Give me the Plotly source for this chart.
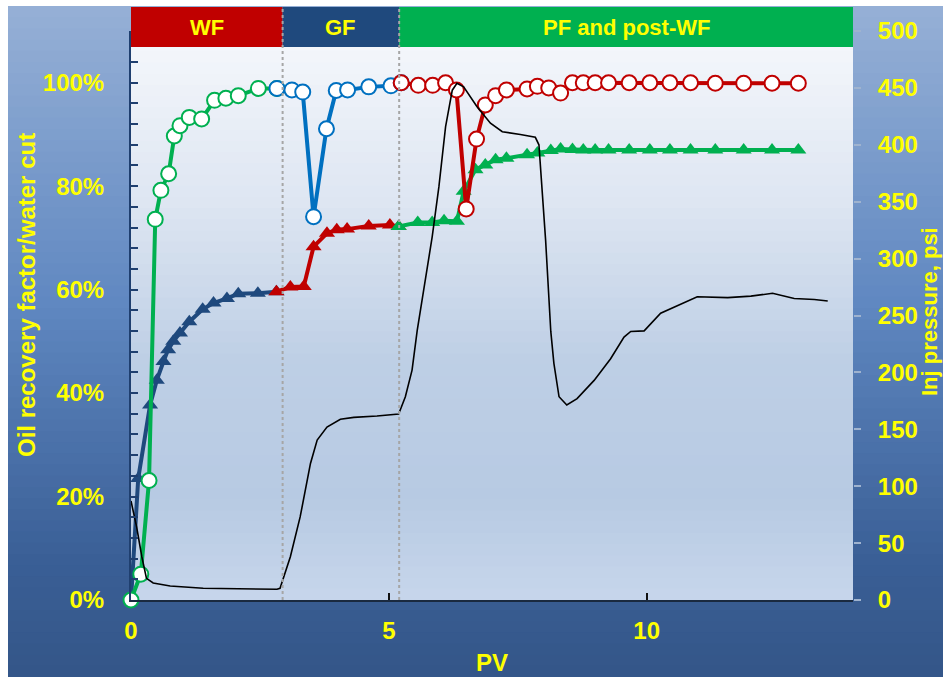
import plotly.graph_objects as go

# ---------------- data ----------------
# Oil recovery factor (fraction)
or_wf_x = [0, 0.14, 0.37, 0.50, 0.63, 0.72, 0.82, 0.95, 1.13, 1.39, 1.60, 1.86, 2.08, 2.46, 2.82]
or_wf_y = [0, 0.235, 0.377, 0.425, 0.461, 0.484, 0.500, 0.516, 0.538, 0.562, 0.574, 0.583, 0.592, 0.593, 0.596]

or_gf_x = [2.82, 3.09, 3.35, 3.54, 3.80, 3.99, 4.19, 4.61, 5.02, 5.19]
or_gf_y = [0.596, 0.605, 0.606, 0.683, 0.709, 0.716, 0.717, 0.723, 0.725, 0.722]

or_pf_x = [5.19, 5.56, 5.84, 6.07, 6.32, 6.45, 6.68, 6.87, 7.07, 7.28, 7.68, 7.88, 8.14, 8.33,
           8.56, 8.77, 9.00, 9.26, 9.66, 10.06, 10.45, 10.85, 11.33, 11.88, 12.43, 12.94]
or_pf_y = [0.722, 0.730, 0.730, 0.733, 0.732, 0.790, 0.832, 0.841, 0.851, 0.854, 0.861, 0.864, 0.869, 0.872,
           0.871, 0.870, 0.870, 0.870, 0.870, 0.870, 0.870, 0.870, 0.870, 0.870, 0.870, 0.870]

# Water cut (fraction)
wc_wf_x = [0, 0.19, 0.35, 0.47, 0.58, 0.73, 0.84, 0.95, 1.13, 1.37, 1.62, 1.84, 2.08, 2.47, 2.83]
wc_wf_y = [0, 0.050, 0.231, 0.736, 0.792, 0.824, 0.897, 0.917, 0.933, 0.930, 0.966, 0.970, 0.975, 0.989, 0.989]

wc_gf_x = [2.83, 3.12, 3.33, 3.54, 3.79, 3.98, 4.20, 4.61, 5.04, 5.24]
wc_gf_y = [0.989, 0.986, 0.982, 0.741, 0.911, 0.985, 0.986, 0.992, 0.994, 1.000]

wc_pf_x = [5.24, 5.57, 5.85, 6.10, 6.31, 6.50, 6.70, 6.87, 7.07, 7.28, 7.68, 7.88, 8.10, 8.33,
           8.56, 8.77, 9.00, 9.26, 9.66, 10.06, 10.45, 10.85, 11.33, 11.88, 12.43, 12.94]
wc_pf_y = [1.000, 0.995, 0.995, 1.000, 0.986, 0.756, 0.891, 0.957, 0.975, 0.986, 0.988, 0.993, 0.990, 0.980,
           1.000, 1.000, 1.000, 1.000, 1.000, 1.000, 1.000, 1.000, 0.999, 0.999, 0.999, 0.999]

# Injection pressure (psi)
p_x = [0, 0.11, 0.21, 0.30, 0.43, 0.76, 1.40, 2.83, 2.89, 3.09, 3.28, 3.48, 3.61, 3.80, 4.06, 4.32, 4.77, 5.19,
       5.32, 5.45, 5.55, 5.84, 5.97, 6.10, 6.23, 6.32, 6.45, 6.71, 6.97, 7.20, 7.55, 7.84, 7.91, 7.94, 8.04,
       8.14, 8.20, 8.30, 8.45, 8.65, 8.98, 9.30, 9.56, 9.69, 9.95, 10.27, 10.60, 10.98, 11.57, 12.02, 12.44,
       12.86, 13.25, 13.51]
p_y = [87, 64, 38, 19, 15, 12.3, 10.3, 9.4, 10.3, 38, 73, 120, 140.6, 152, 158.8, 160.5, 161.7, 163.4,
       178.6, 202, 237, 319, 363, 416, 448, 454, 451, 433.5, 419, 411.5, 409, 406.6, 400, 381, 316,
       236, 208, 178.6, 171.4, 177, 193, 212, 231, 236, 236.5, 252, 259, 266.5, 265.7, 267, 269.5,
       265, 264, 262.7]

phase_names = ["WF", "GF", "PF and post-WF"]
phase_bounds = [0, 2.94, 5.2, 14]

left_ticks = [0, 0.2, 0.4, 0.6, 0.8, 1.0]
right_ticks = [0, 50, 100, 150, 200, 250, 300, 350, 400, 450, 500]

# ---------------- geometry (pixels) ----------------
W, H = 943, 677
L, R, T, B = 131, 853, 31, 600  # plot area in pixels


def px_x(p):
    return (p - L) / (R - L)


def px_y(p):
    return (B - p) / (B - T)


def lerp_color(stops, t):
    for i in range(len(stops) - 1):
        t0, c0 = stops[i]
        t1, c1 = stops[i + 1]
        if t <= t1:
            f = 0 if t1 == t0 else (t - t0) / (t1 - t0)
            c = [round(c0[k] + (c1[k] - c0[k]) * f) for k in range(3)]
            return "rgb(%d,%d,%d)" % tuple(c)
    return "rgb(%d,%d,%d)" % tuple(stops[-1][1])


shapes = []
# outer gradient background: left/right margins and top/bottom strips (not under the plot area)
outer_stops = [(6, (150, 176, 214)), (300, (96, 136, 193)), (560, (58, 95, 150)), (677, (52, 86, 136))]
N = 60
y0p, y1p = 6, 677
for i in range(N):
    a = y0p + (y1p - y0p) * i / N
    b = y0p + (y1p - y0p) * (i + 1) / N
    col = lerp_color(outer_stops, (a + b) / 2)
    shapes.append(dict(type="rect", xref="paper", yref="paper", x0=px_x(8), x1=px_x(W + 2),
                       y0=px_y(b + 2), y1=px_y(a), fillcolor=col, line=dict(width=0),
                       opacity=1, layer="below"))
# plot-area gradient
inner_stops = [(47, (243, 246, 251)), (200, (222, 230, 242)), (360, (190, 207, 229)),
               (500, (183, 202, 227)), (600, (199, 214, 235))]
N2 = 50
a0, b0 = 40, 600
for i in range(N2):
    a = a0 + (b0 - a0) * i / N2
    b = a0 + (b0 - a0) * (i + 1) / N2
    col = lerp_color(inner_stops, (a + b) / 2)
    shapes.append(dict(type="rect", xref="paper", yref="paper", x0=0, x1=1,
                       y0=px_y(min(b + 2, 600)), y1=px_y(a), fillcolor=col, line=dict(width=0),
                       opacity=1, layer="below"))

# phase banner
banner_colors = ["#C00000", "#1F497D", "#00B050"]
for i in range(3):
    shapes.append(dict(type="rect", xref="x", yref="paper", x0=phase_bounds[i], x1=phase_bounds[i + 1],
                       y0=px_y(47), y1=px_y(7), fillcolor=banner_colors[i], line=dict(width=0), layer="above"))
# dotted phase separators
for xb in phase_bounds[1:3]:
    shapes.append(dict(type="line", xref="x", yref="paper", x0=xb, x1=xb, y0=0, y1=px_y(7),
                       line=dict(color="#A6A6A6", width=2, dash="dot"), layer="above"))

fig = go.Figure()

YEL = "#FFFF00"
FONT = "Liberation Sans, Arial, sans-serif"


def tri(x, y, color, name):
    fig.add_trace(go.Scatter(x=x, y=y, mode="lines+markers", name=name, cliponaxis=False,
                             line=dict(color=color, width=4),
                             marker=dict(symbol="triangle-up", size=14, color=color, line=dict(width=0))))


def circ(x, y, color, name):
    fig.add_trace(go.Scatter(x=x, y=y, mode="lines+markers", name=name, cliponaxis=False,
                             line=dict(color=color, width=4),
                             marker=dict(symbol="circle", size=15, color="white", line=dict(color=color, width=2))))


tri(or_wf_x, or_wf_y, "#1F497D", "OR WF")
tri(or_gf_x, or_gf_y, "#C00000", "OR GF")
tri(or_pf_x, or_pf_y, "#00B050", "OR PF")
circ(wc_wf_x, wc_wf_y, "#00B050", "WC WF")
circ(wc_gf_x, wc_gf_y, "#0070C0", "WC GF")
circ(wc_pf_x, wc_pf_y, "#C00000", "WC PF")
fig.add_trace(go.Scatter(x=p_x, y=p_y, mode="lines", yaxis="y2", name="Pressure",
                         line=dict(color="black", width=1.6)))

annotations = []
centers = [(phase_bounds[i] + phase_bounds[i + 1]) / 2 for i in range(3)]
for name, cx in zip(phase_names, centers):
    annotations.append(dict(text=name, x=cx, xref="x", y=px_y(27), yref="paper", showarrow=False,
                            font=dict(family=FONT, size=22, color=YEL, weight="bold"),
                            xanchor="center", yanchor="middle"))
annotations.append(dict(text="PV", x=0.5, xref="paper", y=px_y(662), yref="paper", showarrow=False,
                        font=dict(family=FONT, size=24, color=YEL, weight="bold"),
                        xanchor="center", yanchor="middle"))
annotations.append(dict(text="Oil recovery factor/water cut", x=px_x(26), xref="paper", y=px_y(295),
                        yref="paper", showarrow=False, textangle=-90,
                        font=dict(family=FONT, size=24, color=YEL, weight="bold"),
                        xanchor="center", yanchor="middle"))
annotations.append(dict(text="Inj pressure, psi", x=px_x(929), xref="paper", y=px_y(312),
                        yref="paper", showarrow=False, textangle=-90,
                        font=dict(family=FONT, size=22, color=YEL, weight="bold"),
                        xanchor="center", yanchor="middle"))

fig.update_layout(
    width=W, height=H,
    margin=dict(l=L, r=W - R, t=T, b=H - B, pad=0),
    paper_bgcolor="white", plot_bgcolor="rgba(0,0,0,0)",
    showlegend=False,
    shapes=shapes, annotations=annotations,
    font=dict(family=FONT, color=YEL),
    xaxis=dict(range=[0, 14], tickvals=[0, 5, 10], ticktext=["0", "5", "10"],
               ticks="inside", ticklen=7, tickwidth=2, tickcolor="#111111",
               showline=True, linecolor="#1A2A40", linewidth=2, showgrid=False, zeroline=False,
               tickfont=dict(family=FONT, size=24, color=YEL, weight="bold"), ticklabelstandoff=8),
    yaxis=dict(range=[0, 1.10], tickvals=left_ticks, tickformat=".0%",
               ticks="inside", ticklen=7, tickwidth=1.5, tickcolor="#1F3F6F",
               minor=dict(dtick=0.04, tick0=0, ticks="inside", ticklen=7, tickcolor="#1F3F6F", tickwidth=1.5,
                          showgrid=False),
               showline=True, linecolor="#1F3F6F", linewidth=2, showgrid=False, zeroline=False,
               tickfont=dict(family=FONT, size=24, color=YEL, weight="bold"), ticklabelstandoff=20),
    yaxis2=dict(range=[0, 500], tickvals=right_ticks, overlaying="y", side="right",
                ticks="outside", ticklen=7, tickwidth=1.5, tickcolor="#9FB3CF",
                showline=False, showgrid=False, zeroline=False,
                tickfont=dict(family=FONT, size=24, color=YEL, weight="bold"), ticklabelstandoff=12),
)

fig.write_html("out.html")
